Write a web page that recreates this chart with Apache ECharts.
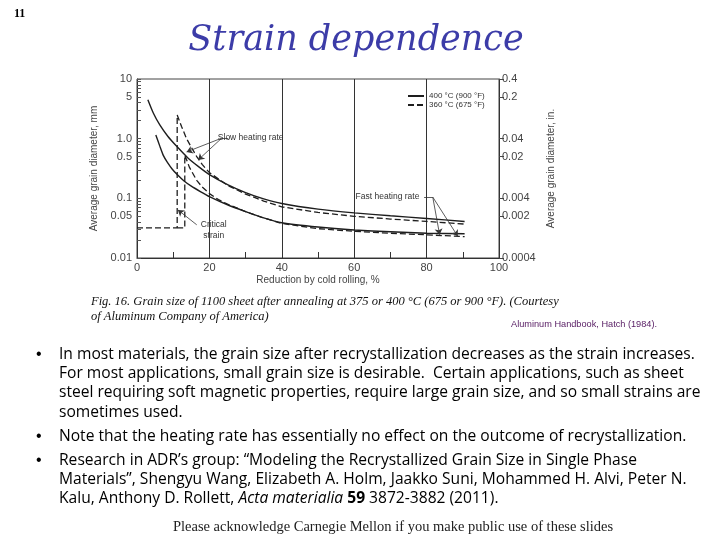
<!DOCTYPE html>
<html><head><meta charset="utf-8">
<script src="https://cdn.jsdelivr.net/npm/echarts@6/dist/echarts.min.js"></script>
<style>html,body{margin:0;padding:0;background:#fff}#c{width:720px;height:540px}</style>
</head><body><div id="c"></div>
<script>
// ---- data (reduction %, grain diameter mm) ----
const slow400X = [3, 4.5, 6.3, 8.5, 11.1, 14, 17, 20, 25, 30, 35, 40, 50, 60, 70, 80, 90.5];
const slow400Y = [4.5, 2.7, 1.7, 1.1, 0.73, 0.48, 0.34, 0.25, 0.17, 0.125, 0.098, 0.082, 0.066, 0.057, 0.051, 0.046, 0.041];
const slow360X = [0, 11.1, 11.1, 12.3, 13.7, 15, 16.5, 18, 20, 25, 30, 35, 40, 50, 60, 70, 80, 90.5];
const slow360Y = [0.032, 0.032, 2.5, 1.6, 1.0, 0.72, 0.5, 0.37, 0.27, 0.165, 0.118, 0.09, 0.072, 0.058, 0.05, 0.045, 0.041, 0.037];
const fast400X = [5.2, 6.3, 7.3, 8.4, 9.7, 11.1, 13, 15, 17.5, 20, 25, 30, 35, 40, 50, 60, 70, 80, 90.5];
const fast400Y = [1.15, 0.75, 0.52, 0.4, 0.31, 0.25, 0.195, 0.16, 0.13, 0.107, 0.078, 0.06, 0.047, 0.039, 0.033, 0.0295, 0.0275, 0.026, 0.0255];
const fast360X = [11.1, 13.2, 13.2, 14.5, 16.5, 18, 20, 22.5, 25, 30, 35, 40, 50, 60, 70, 80, 90.5];
const fast360Y = [0.032, 0.032, 0.53, 0.33, 0.2, 0.155, 0.12, 0.095, 0.08, 0.06, 0.047, 0.038, 0.031, 0.028, 0.026, 0.0245, 0.0228];

const seriesNames = ['400 °C (900 °F)', '360 °C (675 °F)'];
const xTickLabels = ['0', '20', '40', '60', '80', '100'];
const mmTickValues = [0.01, 0.05, 0.1, 0.5, 1, 5, 10];
const mmTickLabels = ['0.01', '0.05', '0.1', '0.5', '1.0', '5', '10'];
const inTickLabels = ['0.0004', '0.002', '0.004', '0.02', '0.04', '0.2', '0.4'];
const mmMinorTicks = [];
[0.01, 0.1, 1].forEach(d => { for (let k = 1; k <= 9; k++) mmMinorTicks.push(+(d * k).toPrecision(3)); });
mmMinorTicks.push(10);

// annotation texts
const slowLabel = 'Slow heating rate';
const fastLabel = 'Fast heating rate';
const critLabel = 'Critical\nstrain';

const bodyLines = [
  'In most materials, the grain size after recrystallization decreases as the strain increases.',
  'For most applications, small grain size is desirable.  Certain applications, such as sheet',
  'steel requiring soft magnetic properties, require large grain size, and so small strains are',
  'sometimes used.',
  'Note that the heating rate has essentially no effect on the outcome of recrystallization.',
  'Research in ADR\u2019s group: \u201cModeling the Recrystallized Grain Size in Single Phase',
  'Materials\u201d, Shengyu Wang, Elizabeth A. Holm, Jaakko Suni, Mohammed H. Alvi, Peter N.',
  '{r|Kalu, Anthony D. Rollett, }{i|Acta materialia}{r| }{b|59}{r| 3872-3882 (2011).}'
];
const bodyY = [355, 374, 393, 413, 437, 461, 480, 499];
const bulletY = [355, 437, 461];

const pairs = (xs, ys) => xs.map((x, i) => [x, ys[i]]);
const ink = '#1e1e1e';
const bodyFont = 'Open Sans';
const bodySize = 15.6;

const chart = echarts.init(document.getElementById('c'), null, {renderer: 'canvas'});

const graphics = [
  {type: 'text', x: 14, y: 8, style: {text: '11', fontSize: 12, fontWeight: 'bold', fontFamily: 'Liberation Serif', fill: '#000'}},
  {type: 'text', x: 356, y: 41, style: {text: 'Strain dependence', fontSize: 35, fontStyle: 'italic', fontFamily: 'DejaVu Serif', fill: '#3c3ca8', align: 'center', verticalAlign: 'middle'}},
  {type: 'text', x: 91, y: 302, style: {text: 'Fig. 16. Grain size of 1100 sheet after annealing at 375 or 400 °C (675 or 900 °F). (Courtesy', fontSize: 12.5, fontStyle: 'italic', fontFamily: 'Liberation Serif', fill: '#111', verticalAlign: 'middle'}},
  {type: 'text', x: 91, y: 317, style: {text: 'of Aluminum Company of America)', fontSize: 12.5, fontStyle: 'italic', fontFamily: 'Liberation Serif', fill: '#111', verticalAlign: 'middle'}},
  {type: 'text', x: 511, y: 324, style: {text: 'Aluminum Handbook, Hatch (1984).', fontSize: 9.2, fontFamily: 'Liberation Sans', fill: '#5a2066', verticalAlign: 'middle'}},
  {type: 'text', x: 393, y: 527, style: {text: 'Please acknowledge Carnegie Mellon if you make public use of these slides', fontSize: 14.5, fontFamily: 'Liberation Serif', fill: '#222', align: 'center', verticalAlign: 'middle'}}
];
bulletY.forEach(y => graphics.push({type: 'text', x: 36, y: y, style: {text: '\u2022', fontSize: 16, fontFamily: 'Liberation Sans', fill: '#000', verticalAlign: 'middle'}}));
bodyLines.forEach((t, i) => graphics.push({type: 'text', x: 59, y: bodyY[i], style: {
  text: t, fontSize: bodySize, fontFamily: bodyFont, fill: '#000', verticalAlign: 'middle',
  rich: {
    r: {fontSize: bodySize, fontFamily: bodyFont, fill: '#000'},
    i: {fontSize: bodySize, fontFamily: bodyFont, fontStyle: 'italic', fill: '#000'},
    b: {fontSize: bodySize, fontFamily: bodyFont, fontWeight: 'bold', fill: '#000'}
  }
}}));

const arrow = (a, b) => [{coord: a}, {coord: b}];
const plain = (a, b) => [{coord: a, symbol: 'none'}, {coord: b, symbol: 'none'}];

const option = {
  backgroundColor: '#fff',
  animation: false,
  grid: {left: 137, right: 221, top: 79, bottom: 282, containLabel: false, show: true, borderColor: '#444', borderWidth: 1},
  legend: {
    data: seriesNames, orient: 'vertical', left: 402, top: 87, itemWidth: 16, itemHeight: 7, itemGap: 1,
    itemStyle: {color: 'rgba(0,0,0,0)', borderWidth: 0, opacity: 0},
    textStyle: {fontSize: 8, color: '#333', fontFamily: 'Liberation Sans', padding: 0},
    selectedMode: false
  },
  xAxis: {
    type: 'value', min: 0, max: 100, interval: 20,
    name: 'Reduction by cold rolling, %', nameLocation: 'middle', nameGap: 17,
    nameTextStyle: {fontSize: 10, color: '#444', fontFamily: 'Liberation Sans'},
    axisLine: {lineStyle: {color: '#333'}},
    axisTick: {inside: true, length: 6, lineStyle: {color: '#333'}},
    minorTick: {show: true, splitNumber: 2, length: 6, lineStyle: {color: '#333'}},
    axisLabel: {fontSize: 11, color: '#444', fontFamily: 'Liberation Sans', margin: 4,
      formatter: (v) => xTickLabels[Math.round(v / 20)]},
    splitLine: {show: true, lineStyle: {color: '#333', width: 1}}
  },
  yAxis: [
    {
      type: 'log', min: 0.01, max: 10, logBase: 10, position: 'left',
      name: 'Average grain diameter, mm', nameLocation: 'middle', nameGap: 35, nameRotate: 90,
      nameTextStyle: {fontSize: 10, color: '#444', fontFamily: 'Liberation Sans'},
      axisLine: {show: true, lineStyle: {color: '#333'}},
      axisTick: {show: true, inside: true, length: 4, customValues: mmMinorTicks, lineStyle: {color: '#555'}},
      axisLabel: {fontSize: 11, color: '#444', fontFamily: 'Liberation Sans', margin: 5, customValues: mmTickValues,
        formatter: (v) => { const i = mmTickValues.findIndex(t => Math.abs(Math.log10(t) - Math.log10(v)) < 1e-6); return i >= 0 ? mmTickLabels[i] : ''; }},
      splitLine: {show: false}
    },
    {
      type: 'log', min: 0.01, max: 10, logBase: 10, position: 'right',
      name: 'Average grain diameter, in.', nameLocation: 'middle', nameGap: 39, nameRotate: 90,
      nameTextStyle: {fontSize: 10, color: '#444', fontFamily: 'Liberation Sans'},
      axisLine: {show: true, lineStyle: {color: '#333'}},
      axisTick: {show: true, inside: false, length: 5, customValues: mmTickValues, lineStyle: {color: '#444'}},
      axisLabel: {fontSize: 11, color: '#444', fontFamily: 'Liberation Sans', margin: 3, customValues: mmTickValues,
        formatter: (v) => { const i = mmTickValues.findIndex(t => Math.abs(Math.log10(t) - Math.log10(v)) < 1e-6); return i >= 0 ? inTickLabels[i] : ''; }},
      splitLine: {show: false}
    }
  ],
  series: [
    {name: seriesNames[0], type: 'line', data: pairs(slow400X, slow400Y), symbol: 'none', smooth: 0.2,
      lineStyle: {color: ink, width: 1.4, type: 'solid'}, itemStyle: {color: ink}},
    {name: seriesNames[1], type: 'line', data: pairs(slow360X, slow360Y), symbol: 'none',
      lineStyle: {color: ink, width: 1.3, type: [6, 3]}, itemStyle: {color: ink}},
    {name: seriesNames[0], type: 'line', data: pairs(fast400X, fast400Y), symbol: 'none', smooth: 0.2,
      lineStyle: {color: ink, width: 1.4, type: 'solid'}, itemStyle: {color: ink}},
    {name: seriesNames[1], type: 'line', data: pairs(fast360X, fast360Y), symbol: 'none',
      lineStyle: {color: ink, width: 1.3, type: [6, 3]}, itemStyle: {color: ink}},
    {name: 'annotations', type: 'line', data: [], silent: true,
      markLine: {
        silent: true, symbol: ['none', 'arrow'], symbolSize: 6, animation: false,
        lineStyle: {color: '#333', width: 0.8, type: 'solid'}, label: {show: false},
        data: [
          plain([23.4, 1.02], [25.2, 1.02]),
          arrow([23.4, 1.02], [13.7, 0.6]),
          arrow([23.4, 1.02], [16.9, 0.44]),
          plain([79.3, 0.105], [81.7, 0.105]),
          arrow([81.7, 0.105], [83.6, 0.0245]),
          arrow([81.7, 0.105], [88.6, 0.0232]),
          arrow([16.5, 0.036], [11.3, 0.064])
        ]
      },
      markPoint: {
        silent: true, symbol: 'circle', symbolSize: 0, itemStyle: {color: 'rgba(0,0,0,0)'},
        label: {show: true, position: 'inside', fontSize: 8.5, color: '#333', fontFamily: 'Liberation Sans', lineHeight: 11, align: 'center'},
        data: [
          {coord: [31.4, 1.03], label: {formatter: slowLabel}},
          {coord: [69.2, 0.105], label: {formatter: fastLabel}},
          {coord: [21.2, 0.029], label: {formatter: critLabel}}
        ]
      }
    }
  ],
  graphic: graphics
};
chart.setOption(option);
</script></body></html>
